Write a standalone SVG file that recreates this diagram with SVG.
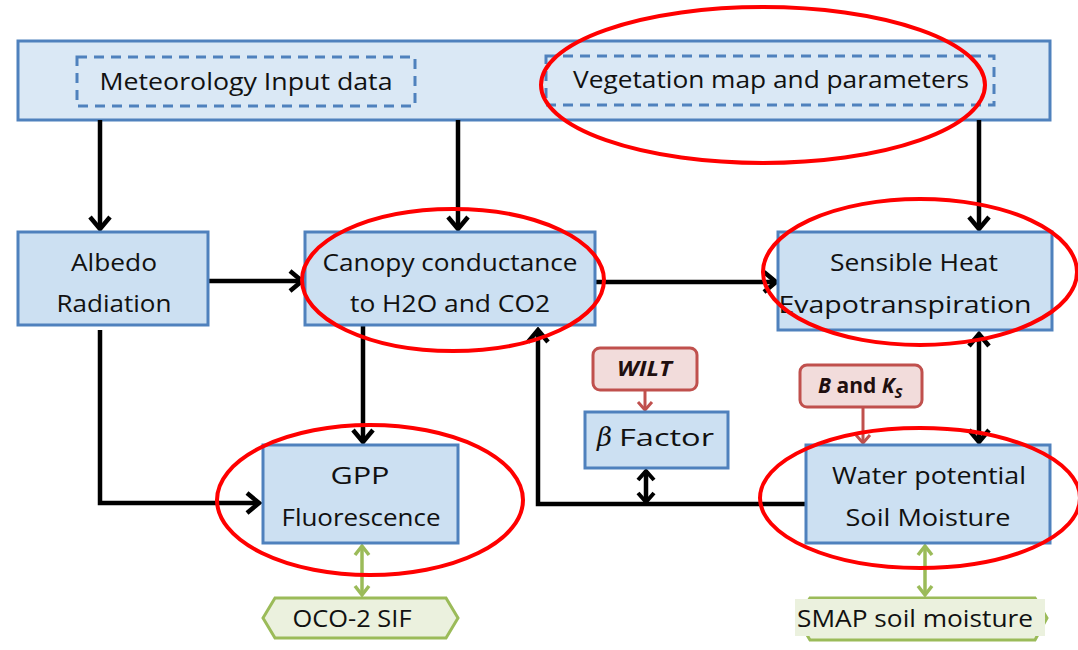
<svg xmlns="http://www.w3.org/2000/svg" width="1078" height="650" viewBox="0 0 1078 650">
<defs>
<style>
.box{fill:#cce0f2;stroke:#4f81bd;stroke-width:3}
.top{fill:#dae8f5;stroke:#4f81bd;stroke-width:3}
.dash{fill:none;stroke:#4f81bd;stroke-width:3;stroke-dasharray:10 7}
.t{font-family:"Open Sans",Lato,sans-serif;font-size:24px;fill:#111;text-anchor:middle}
.ell{fill:none;stroke:#ff0000;stroke-width:4}
.con{fill:none;stroke:#000;stroke-width:4.5}
.g{fill:none;stroke:#9bbb59;stroke-width:3.5}
.rb{fill:#f2dcdb;stroke:#c0504d;stroke-width:3}
.rl{fill:none;stroke:#c0504d;stroke-width:3}
.hex{fill:#ebf1de;stroke:#9bbb59;stroke-width:3}
.rt{font-family:"Open Sans",Lato,sans-serif;font-size:21px;font-weight:bold;fill:#1f0f0f}
</style>
<marker id="ah" viewBox="-16 -12 19 24" markerWidth="19" markerHeight="24" refX="0" refY="0" orient="auto-start-reverse" markerUnits="userSpaceOnUse">
<path d="M-12,-10 L0,0 L-12,10" fill="none" stroke="#000" stroke-width="4.5"/>
</marker>
<marker id="sh" viewBox="-16 -12 19 24" markerWidth="19" markerHeight="24" refX="0" refY="0" orient="auto-start-reverse" markerUnits="userSpaceOnUse">
<path d="M-9,-8 L0,0 L-9,8" fill="none" stroke="#000" stroke-width="4"/>
</marker>
<marker id="gh" viewBox="-12 -10 15 20" markerWidth="15" markerHeight="20" refX="0" refY="0" orient="auto-start-reverse" markerUnits="userSpaceOnUse">
<path d="M-9,-7 L0,0 L-9,7" fill="none" stroke="#9bbb59" stroke-width="3.5"/>
</marker>
<marker id="rh" viewBox="-12 -10 15 20" markerWidth="15" markerHeight="20" refX="0" refY="0" orient="auto" markerUnits="userSpaceOnUse">
<path d="M-8,-7 L0,0 L-8,7" fill="none" stroke="#c0504d" stroke-width="3"/>
</marker>
</defs>
<rect width="1078" height="650" fill="#fff"/>

<g id="top-inputs">
<rect class="top" x="18" y="41" width="1032" height="79"/>
</g>
<g id="meteorology">
<rect class="dash" x="77" y="57" width="338" height="49"/>
<text class="t" x="246" y="90" textLength="293" lengthAdjust="spacingAndGlyphs">Meteorology Input data</text>
</g>
<g id="vegetation">
<rect class="dash" x="546" y="56" width="448" height="49"/>
<text class="t" x="771" y="88" textLength="396" lengthAdjust="spacingAndGlyphs">Vegetation map and parameters</text>
</g>

<g id="connectors">
<line class="con" x1="100" y1="120" x2="100" y2="229" marker-end="url(#ah)"/>
<line class="con" x1="458" y1="120" x2="458" y2="229" marker-end="url(#ah)"/>
<line class="con" x1="979" y1="120" x2="979" y2="229" marker-end="url(#ah)"/>
<line class="con" x1="208" y1="281" x2="302" y2="281" marker-end="url(#ah)"/>
<line class="con" x1="595" y1="282" x2="776" y2="282" marker-end="url(#ah)"/>
<line class="con" x1="363" y1="325" x2="363" y2="442" marker-end="url(#ah)"/>
<polyline class="con" points="100,330 100,503 259,503" marker-end="url(#ah)"/>
<polyline class="con" points="806,504 538,504 538,330" marker-end="url(#ah)"/>
<line class="con" x1="979" y1="334" x2="979" y2="442" marker-start="url(#ah)" marker-end="url(#ah)"/>
<line class="con" x1="646" y1="471" x2="646" y2="502" stroke-width="4" marker-start="url(#sh)" marker-end="url(#sh)"/>
<line class="rl" x1="645" y1="390" x2="645" y2="410" marker-end="url(#rh)"/>
<line class="rl" x1="863" y1="407" x2="863" y2="443" marker-end="url(#rh)"/>
<line class="g" x1="362" y1="546" x2="362" y2="595" marker-start="url(#gh)" marker-end="url(#gh)"/>
<line class="g" x1="925" y1="546" x2="925" y2="595" marker-start="url(#gh)" marker-end="url(#gh)"/>
</g>

<g id="albedo">
<rect class="box" x="18" y="232" width="190" height="93"/>
<text class="t" x="114" y="271" textLength="86" lengthAdjust="spacingAndGlyphs">Albedo</text>
<text class="t" x="114" y="312" textLength="115" lengthAdjust="spacingAndGlyphs">Radiation</text>
</g>
<g id="canopy">
<rect class="box" x="305" y="232" width="290" height="93"/>
<text class="t" x="450" y="271" textLength="255" lengthAdjust="spacingAndGlyphs">Canopy conductance</text>
<text class="t" x="450" y="312" textLength="200" lengthAdjust="spacingAndGlyphs">to H2O and CO2</text>
</g>
<g id="sensible">
<rect class="box" x="778" y="232" width="274" height="98"/>
<text class="t" x="914" y="271" textLength="168" lengthAdjust="spacingAndGlyphs">Sensible Heat</text>
<text class="t" x="905" y="313" textLength="253" lengthAdjust="spacingAndGlyphs">Evapotranspiration</text>
</g>
<g id="gpp">
<rect class="box" x="263" y="445" width="195" height="98"/>
<text class="t" x="360" y="484" textLength="59" lengthAdjust="spacingAndGlyphs">GPP</text>
<text class="t" x="361" y="526" textLength="159" lengthAdjust="spacingAndGlyphs">Fluorescence</text>
</g>
<g id="wilt">
<rect class="rb" x="593" y="348" width="104" height="42" rx="7"/>
<text class="rt" x="617" y="376" font-style="italic" textLength="55" lengthAdjust="spacingAndGlyphs">WILT</text>
</g>
<g id="beta">
<rect class="box" x="585" y="412" width="143" height="56"/>
<text x="597" y="446" style="font-family:'DejaVu Serif',serif;font-size:26px;font-style:italic;fill:#111">β</text>
<text x="619" y="446" style="font-family:'Open Sans',Lato,sans-serif;font-size:24px;fill:#111" textLength="95" lengthAdjust="spacingAndGlyphs">Factor</text>
</g>
<g id="bks">
<rect class="rb" x="800" y="365" width="122" height="42" rx="7"/>
<text class="rt" x="818" y="393"><tspan font-style="italic">B</tspan> and <tspan font-style="italic">K</tspan><tspan font-style="italic" font-size="15" dy="5">S</tspan></text>
</g>
<g id="water">
<rect class="box" x="806" y="445" width="244" height="98"/>
<text class="t" x="929" y="484" textLength="194" lengthAdjust="spacingAndGlyphs">Water potential</text>
<text class="t" x="928" y="526" textLength="165" lengthAdjust="spacingAndGlyphs">Soil Moisture</text>
</g>
<g id="oco2">
<polygon class="hex" points="263,618 275,598 446,598 458,618 446,638 275,638"/>
<text class="t" x="352" y="627" textLength="119" lengthAdjust="spacingAndGlyphs">OCO-2 SIF</text>
</g>
<g id="smap">
<polygon class="hex" points="797,618 810,598 1035,598 1047,618 1035,640 810,640"/>
<rect x="795" y="599" width="250" height="37" fill="#ebf1de"/>
<text class="t" x="915" y="627" textLength="236" lengthAdjust="spacingAndGlyphs">SMAP soil moisture</text>
</g>

<g id="highlights">
<ellipse class="ell" cx="763" cy="85" rx="222" ry="78"/>
<ellipse class="ell" cx="453" cy="280" rx="151" ry="71"/>
<ellipse class="ell" cx="920" cy="272" rx="157" ry="73"/>
<ellipse class="ell" cx="370" cy="500" rx="153" ry="75"/>
<ellipse class="ell" cx="920" cy="498" rx="160" ry="70"/>
</g>
</svg>
